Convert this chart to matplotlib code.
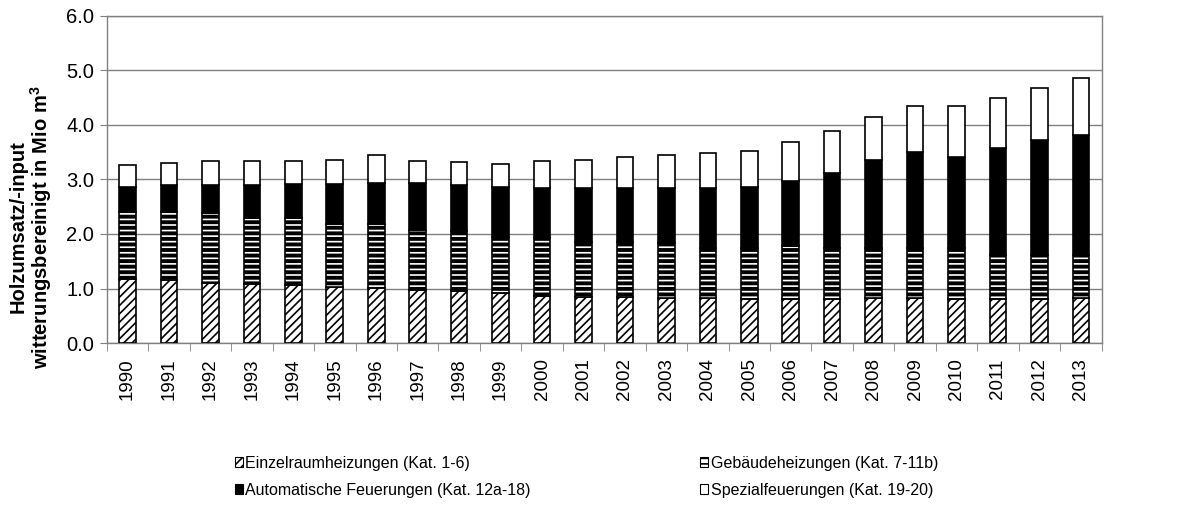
import matplotlib
matplotlib.use("Agg")
import matplotlib.pyplot as plt
import matplotlib.patches as mpatches
import numpy as np

plt.rcParams['font.family'] = ['Liberation Sans', 'DejaVu Sans']
plt.rcParams['hatch.linewidth'] = 1.2

years = [str(y) for y in range(1990, 2014)]

# segment tops (cumulative), then differenced
einzel = [1.18, 1.15, 1.11, 1.09, 1.07, 1.03, 1.01, 0.98, 0.95, 0.92, 0.87, 0.85,
          0.84, 0.83, 0.82, 0.81, 0.81, 0.81, 0.83, 0.82, 0.81, 0.81, 0.81, 0.83]
geb_top = [2.41, 2.41, 2.38, 2.29, 2.29, 2.18, 2.18, 2.08, 2.06, 1.95, 1.92, 1.86,
           1.86, 1.83, 1.75, 1.75, 1.78, 1.75, 1.75, 1.75, 1.75, 1.62, 1.62, 1.62]
auto_top = [2.86, 2.90, 2.90, 2.90, 2.91, 2.92, 2.93, 2.93, 2.89, 2.86, 2.84, 2.84,
            2.85, 2.84, 2.85, 2.87, 2.97, 3.12, 3.36, 3.50, 3.42, 3.58, 3.72, 3.82]
total = [3.26, 3.30, 3.33, 3.34, 3.34, 3.36, 3.44, 3.34, 3.32, 3.29, 3.33, 3.36,
         3.42, 3.45, 3.48, 3.53, 3.69, 3.89, 4.15, 4.35, 4.35, 4.50, 4.68, 4.86]

labels = ['Einzelraumheizungen (Kat. 1-6)', 'Gebäudeheizungen (Kat. 7-11b)',
          'Automatische Feuerungen (Kat. 12a-18)', 'Spezialfeuerungen (Kat. 19-20)']

einzel = np.array(einzel)
gebaeude = np.array(geb_top) - einzel
auto = np.array(auto_top) - np.array(geb_top)
spezial = np.array(total) - np.array(auto_top)

fig = plt.figure(figsize=(11.87, 5.12), dpi=100)
ax = fig.add_axes([0.090, 0.330, 0.838, 0.639])

x = np.arange(len(years))
w = 0.4

ax.bar(x, einzel, w, color='white', edgecolor='black', hatch='////', linewidth=1.2, zorder=3)
ax.bar(x, gebaeude, w, bottom=einzel, color='black', edgecolor='white', hatch='---', linewidth=0, zorder=3)
ax.bar(x, gebaeude, w, bottom=einzel, fill=False, edgecolor='black', linewidth=1.2, zorder=4)
b2 = einzel + gebaeude
ax.bar(x, auto, w, bottom=b2, color='black', edgecolor='black', linewidth=1.2, zorder=3)
b3 = b2 + auto
ax.bar(x, spezial, w, bottom=b3, color='white', edgecolor='black', linewidth=1.2, zorder=3)

ax.set_xlim(-0.5, len(years) - 0.5)
ax.set_ylim(0, 6)
ax.set_yticks(np.arange(0, 6.1, 1.0))
ax.set_yticklabels([f'{v:.1f}' for v in np.arange(0, 6.1, 1.0)], fontsize=14.5)
ax.set_xticks(x)
ax.set_xticklabels(years, rotation=90, fontsize=13.5)
ax.set_xticks(np.arange(-0.5, len(years), 1.0), minor=True)
ax.tick_params(axis='x', which='major', length=0, pad=11)
ax.tick_params(axis='x', which='minor', length=6, color='#808080', direction='out')
ax.tick_params(axis='y', length=5, color='#808080', direction='out', pad=4)

ax.grid(True, axis='y', color='#808080', linewidth=1, zorder=0)
for s in ax.spines.values():
    s.set_color('#808080')
    s.set_linewidth(1)

ax.set_ylabel('Holzumsatz/-input\nwitterungsbereinigt in Mio m$^\\mathregular{3}$',
              fontsize=14.5, fontweight='bold', linespacing=1.0)
ax.yaxis.label.set(ha='center', va='center')
ax.yaxis.set_label_coords(-0.076, 0.355)

handles = [
    mpatches.Patch(facecolor='white', edgecolor='black', hatch='////', linewidth=0.8),
    mpatches.Patch(facecolor='black', edgecolor='black', linewidth=0.8),
    mpatches.Patch(facecolor='white', edgecolor='black', hatch='---', linewidth=0.8),
    mpatches.Patch(facecolor='white', edgecolor='black', linewidth=0.8),
]
order = [labels[0], labels[2], labels[1], labels[3]]
fig.legend(handles, order, ncol=2, loc='upper left', bbox_to_anchor=(0.198, 0.110),
           frameon=False, fontsize=11.5, handlelength=0.5, handleheight=0.5,
           handletextpad=0.15, columnspacing=10.6, labelspacing=0.75,
           borderaxespad=0, borderpad=0)

fig.savefig('out.png', dpi=100)
